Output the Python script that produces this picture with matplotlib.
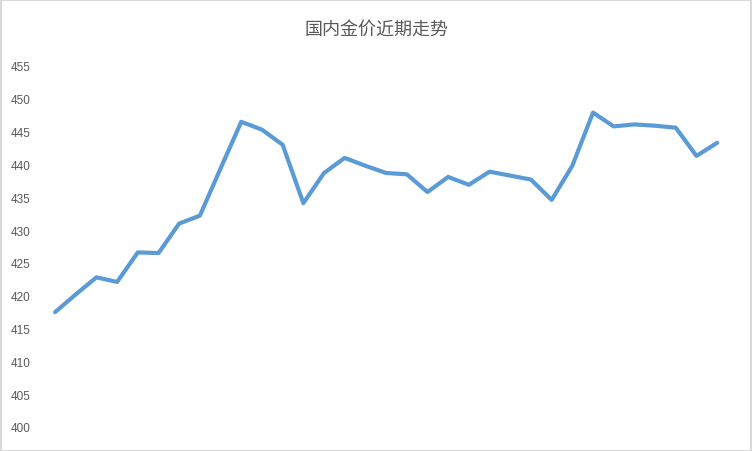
import matplotlib
matplotlib.use("Agg")
import matplotlib.pyplot as plt
from matplotlib.patches import Rectangle

plt.rcParams['font.family'] = ['Noto Sans CJK SC', 'DejaVu Sans']

# 国内金价 (元/克), one value per trading day
prices = [417.5, 420.2, 422.8, 422.1, 426.6, 426.5, 431.0, 432.2, 439.4, 446.5,
          445.3, 443.0, 434.1, 438.7, 441.0, 439.8, 438.7, 438.5, 435.8, 438.1,
          436.9, 438.9, 438.3, 437.7, 434.6, 439.8, 447.9, 445.8, 446.1, 445.9,
          445.6, 441.3, 443.3]
yticks = [400, 405, 410, 415, 420, 425, 430, 435, 440, 445, 450, 455]
title = "国内金价近期走势"

W, H = 752, 452
fig = plt.figure(figsize=(W / 100, H / 100), dpi=100)
ax = fig.add_axes([44.7 / W, 1 - 428 / H, (727.5 - 44.7) / W, (428 - 67) / H])

x = list(range(len(prices)))
ax.plot(x, prices, color="#5B9BD5", lw=3.0, solid_joinstyle="round",
        solid_capstyle="round")
ax.set_xlim(-0.5, len(prices) - 0.5)
ax.set_ylim(400, 455)
ax.set_yticks(yticks)
ax.set_yticklabels([str(v) for v in yticks], family="Liberation Sans",
                   fontsize=8.5, color="#595959")
ax.tick_params(axis="y", length=0, pad=10)
ax.set_xticks([])
for s in ax.spines.values():
    s.set_visible(False)

fig.text(376 / W, 1 - 30 / H, title, ha="center", va="center", fontsize=13,
         color="#595959", fontweight="light")
fig.patches.append(Rectangle((0.5 / W, 0.5 / H), 1 - 1.5 / W, 1 - 1.5 / H,
                             transform=fig.transFigure, fill=False,
                             edgecolor="#D9D9D9", lw=1.5))

fig.savefig("out.png", dpi=100)
